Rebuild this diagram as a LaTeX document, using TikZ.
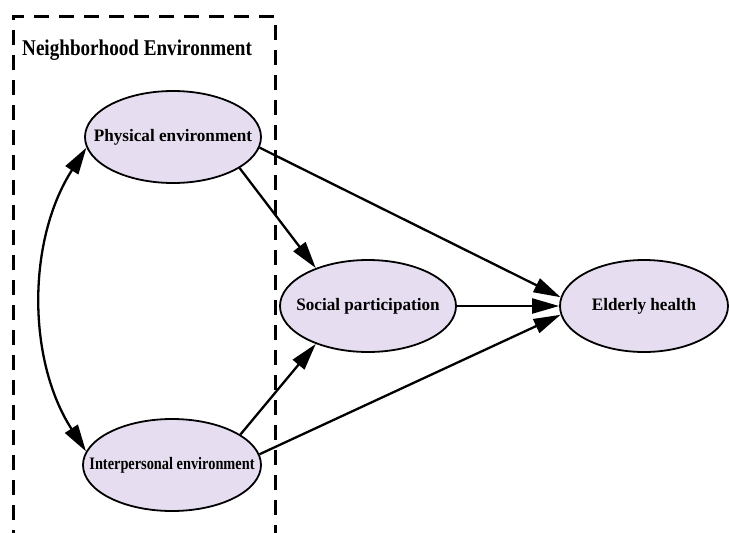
\documentclass[tikz,border=0pt]{standalone}
\usepackage{fontspec}
\setmainfont{Liberation Serif}
\newfontfamily\nodefont[FakeStretch=0.98]{Liberation Serif}
\newfontfamily\ipfont[FakeStretch=0.82]{Liberation Serif}
\newfontfamily\titlefont[FakeStretch=0.85]{Liberation Serif}
\usetikzlibrary{arrows.meta,shapes.geometric}
\definecolor{fillc}{RGB}{230,222,240}
\begin{document}
\begin{tikzpicture}[x=1pt,y=-1pt,
  ell/.style={ellipse, draw, line width=1.8pt, fill=fillc, minimum width=176pt, minimum height=92pt, inner xsep=-40pt, inner ysep=0pt, font=\nodefont\fontsize{17.5}{20}\selectfont\bfseries},
  tip/.style={Triangle[length=27pt,width=15pt]},
  arr/.style={line width=2.3pt, -{Triangle[length=27pt,width=15pt]}},
  boxline/.style={line width=3pt, dash pattern=on 15pt off 10pt},
]
\useasboundingbox (0,0) rectangle (729,533);
\clip (0,0) rectangle (729,533);
\draw[boxline] (13,545) -- (13,16) -- (275,16) -- (275,545);
\node[font=\titlefont\fontsize{22.5}{26}\selectfont\bfseries, anchor=west, inner sep=0pt] (title) at (22,50) {Neighborhood Environment};
\node[ell] (P) at (173,137) {Physical environment};
\node[ell, minimum width=178pt, font=\ipfont\fontsize{17.5}{20}\selectfont\bfseries] (I) at (172,465) {Interpersonal environment};
\node[ell] (S) at (368,306) {Social participation};
\node[ell, minimum width=168pt] (E) at (644,306) {Elderly health};
\draw[arr] (P.-7) -- (E.174);
\draw[arr] (P.-25) -- (S.144);
\draw[arr] (S.east) -- (E.west);
\draw[arr] (I.24) -- (S.-144);
\draw[arr] (I.7) -- (E.-174);
\draw[line width=2.3pt, {Triangle[length=27pt,width=15pt]}-{Triangle[length=27pt,width=15pt]}] (P.187) .. controls (27,240) and (27,360) .. (I.171);
\end{tikzpicture}
\end{document}
